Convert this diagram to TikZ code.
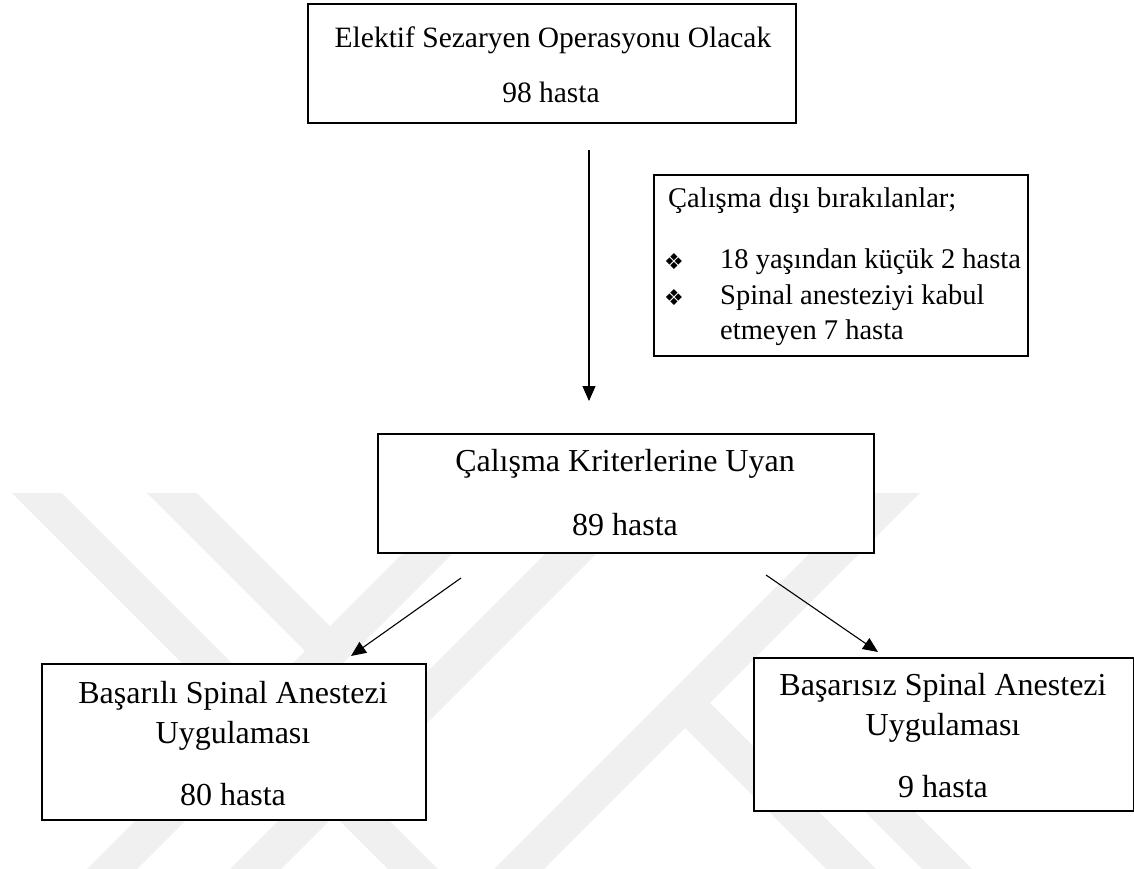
\documentclass[tikz,border=0pt]{standalone}
\usepackage{fontspec}
\setmainfont{Liberation Serif}
\newfontfamily\dejavu{DejaVu Sans}
\usetikzlibrary{arrows.meta}
\definecolor{wm}{HTML}{F0F0F0}
\tikzset{
  box/.style={draw=black, line width=1.6pt, fill=white, rectangle, inner sep=0pt, anchor=north west},
  txt/.style={inner sep=0pt, font=\fontsize{32}{36}\selectfont},
  ttxt/.style={inner sep=0pt, font=\fontsize{29.5}{34}\selectfont},
  stxt/.style={inner sep=0pt, font=\fontsize{28.5}{34}\selectfont, anchor=west},
  bul/.style={inner sep=0pt, font=\dejavu\fontsize{22}{24}\selectfont},
  conn/.style={line width=1.1pt, -{Triangle[length=15pt,width=13pt]}},
  band/.style={fill=wm, draw=none}
}
\begin{document}
\begin{tikzpicture}[x=1pt,y=-1pt]
\useasboundingbox (0,0) rectangle (1134,869);
% watermark
\fill[band] (12,493) -- (62,493) -- (438,869) -- (388,869) -- cycle;
\fill[band] (147,493) -- (197,493) -- (330,626) -- (305,651) -- cycle;
\fill[band] (87,869) -- (137,869) -- (513,493) -- (463,493) -- cycle;
\fill[band] (230,869) -- (281,869) -- (657,493) -- (606,493) -- cycle;
\fill[band] (494,869) -- (544,869) -- (920,493) -- (870,493) -- cycle;
\fill[band] (710,703) -- (876,869) -- (826,869) -- (685,728) -- cycle;
\fill[band] (833,780) -- (883,780) -- (972,869) -- (922,869) -- cycle;
% boxes
\node[box, minimum width=488pt, minimum height=119pt] (top) at (307,3) {};
\node[box, minimum width=374pt, minimum height=181pt] (excl) at (653,174) {};
\node[box, minimum width=496pt, minimum height=119pt] (mid) at (377,433) {};
\node[box, minimum width=384pt, minimum height=156pt] (left) at (41,663) {};
\node[box, minimum width=380pt, minimum height=153pt] (right) at (753,657) {};
% texts
\node[ttxt] (topA) at (553,40) {Elektif Sezaryen Operasyonu Olacak};
\node[ttxt] (topB) at (551,92) {98 hasta};
\node[stxt] (exA) at (668,201) {Çalışma dışı bırakılanlar;};
\node[bul] (b1) at (674,262) {❖};
\node[bul] (b2) at (674,298) {❖};
\node[stxt] (exB) at (720,262) {18 yaşından küçük 2 hasta};
\node[stxt] (exC) at (720,298) {Spinal anesteziyi kabul};
\node[stxt] (exD) at (720,333) {etmeyen 7 hasta};
\node[txt] (midA) at (625,464) {Çalışma Kriterlerine Uyan};
\node[txt] (midB) at (625,525) {89 hasta};
\node[txt] (lA) at (233,696) {Başarılı Spinal Anestezi};
\node[txt] (lB) at (233,736) {Uygulaması};
\node[txt] (lC) at (233,795) {80 hasta};
\node[txt] (rA) at (943,688) {Başarısız Spinal Anestezi};
\node[txt] (rB) at (943,728) {Uygulaması};
\node[txt] (rC) at (943,787) {9 hasta};
% connectors
\coordinate (a1s) at (589,150);
\coordinate (a1e) at (589,401);
\coordinate (a2s) at (461,578);
\coordinate (a2e) at (351,656);
\coordinate (a3s) at (766,575);
\coordinate (a3e) at (878,652);
\draw[conn] (a1s) -- (a1e);
\draw[conn] (a2s) -- (a2e);
\draw[conn] (a3s) -- (a3e);
\end{tikzpicture}
\end{document}
